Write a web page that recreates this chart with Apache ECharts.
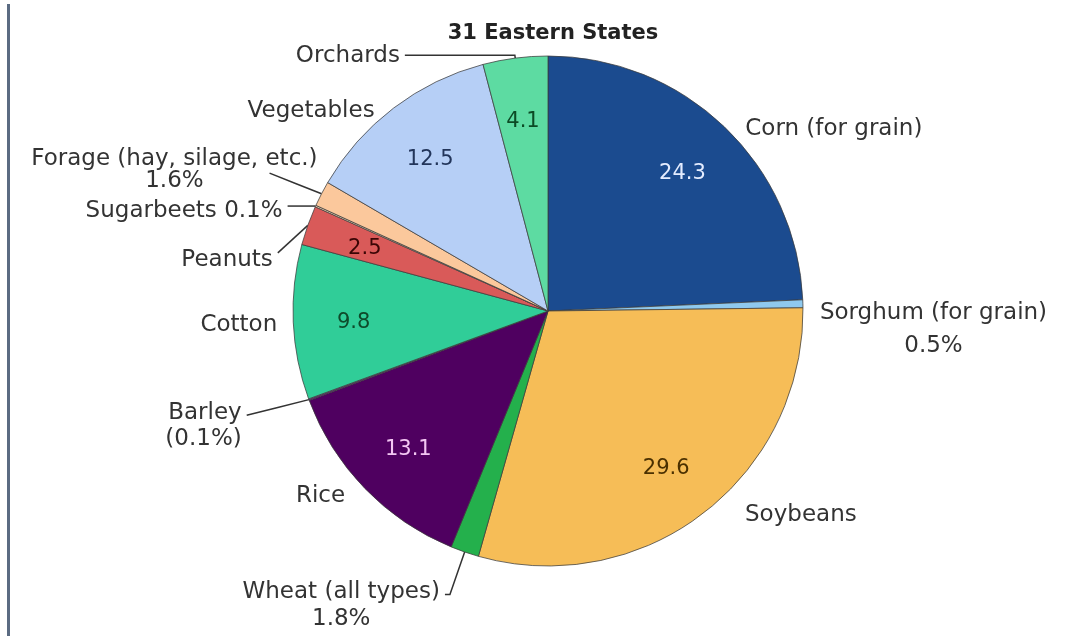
<!DOCTYPE html>
<html><head><meta charset="utf-8">
<script src="https://cdn.jsdelivr.net/npm/echarts@6/dist/echarts.min.js"></script>
<style>html,body{margin:0;padding:0;background:#fff}#c{width:1077px;height:636px}</style>
</head><body><div id="c"></div>
<script>
// ---- data ----
const chartTitle = '31 Eastern States';
const categories = ['Corn (for grain)','Sorghum (for grain)','Soybeans','Wheat (all types)','Rice','Barley','Cotton','Peanuts','Sugarbeets','Forage (hay, silage, etc.)','Vegetables','Orchards'];
const values = [24.3, 0.5, 29.6, 1.8, 13.1, 0.1, 9.8, 2.5, 0.1, 1.6, 12.5, 4.1];
// how each outside label is written: 'name', 'nameCenterPct', 'nameParenPct', 'nameInlinePct'
const labelKinds = ['name','nameCenterPct','name','nameCenterPct','name','nameParenPct','name','name','nameInlinePct','nameCenterPct','name','name'];
const insideMin = 2.5; // slices of at least this share carry their value inside

// ---- styles ----
const sliceColors = ['#1b4b8f','#8fc9ee','#f6bd57','#24b04c','#4f0060','#6a2a7a','#30cd98','#d95a59','#f4d9b4','#fbc89c','#b6cff6','#5ddba2'];
const valueColors = ['#e4ecff',null,'#4a3000',null,'#f3c6f3',null,'#0e4a2a','#3a0505',null,null,'#22355a','#0c4a25'];
// [length, length2, showLine, dx, dy, lineHeight, lineMode] for outside labels
// lineMode: '' = library default, 'top' = run to the label's upper corner, 'straight' = single straight segment
const outerLayout = [
  [0,16,false,0,2,27,''],
  [0,12,false,0,26,33,''],
  [0,37,false,0,2,27,''],
  [45,5,true,0,11,27,''],
  [8,9,false,0,2,27,''],
  [45,20,true,0,11,26,'straight'],
  [0,11,false,0,3,27,''],
  [0,30,true,0,35,27,'top'],
  [0,28,true,0,5,27,''],
  [45,12,true,53,-3,22,'straight'],
  [0,14,false,0,3,27,''],
  [3,110,true,0,1,27,'']
];
const FONT = 'DejaVu Sans';
const NAME_SIZE = 23;

function outerText(i, name, v) {
  const k = labelKinds[i];
  if (k === 'nameCenterPct') return '{c|' + name + '}\n{c|' + v + '%}';
  if (k === 'nameParenPct') return '{l|' + name + '}\n{l|(' + v + '%)}';
  if (k === 'nameInlinePct') return '{l|' + name + ' ' + v + '%}';
  return '{l|' + name + '}';
}

function richFor(i) {
  const lh = outerLayout[i][5];
  return {
    c: {align: 'center', fontFamily: FONT, fontSize: NAME_SIZE, color: '#333', lineHeight: lh},
    l: {fontFamily: FONT, fontSize: NAME_SIZE, color: '#333', lineHeight: lh}
  };
}

const outerData = categories.map((n, i) => ({
  name: n,
  value: values[i],
  itemStyle: {color: sliceColors[i]},
  label: {formatter: p => outerText(p.dataIndex, p.name, p.value), rich: richFor(i)},
  labelLine: {show: outerLayout[i][2], length: outerLayout[i][0], length2: outerLayout[i][1]}
}));

const innerData = categories.map((n, i) => ({
  name: n,
  value: values[i],
  label: {show: values[i] >= insideMin, color: valueColors[i] || '#000'}
}));

function outerLabelLayout(p) {
  const o = outerLayout[p.dataIndex];
  const res = {dx: o[3], dy: o[4]};
  const pts = p.labelLinePoints;
  if (o[6] && pts && pts.length) {
    const s = pts[0];
    let e;
    if (o[6] === 'top') {
      const r = p.labelRect;
      e = [r.x + r.width + o[3] + 5, r.y + o[4] + 4];
    } else {
      e = pts[pts.length - 1];
    }
    res.labelLinePoints = [s, [(s[0] + e[0]) / 2, (s[1] + e[1]) / 2], e];
  }
  return res;
}

const chart = echarts.init(document.getElementById('c'), null, {renderer: 'canvas'});
chart.setOption({
  animation: false,
  backgroundColor: '#ffffff',
  title: {
    text: chartTitle, left: 548, top: 18, textAlign: 'center',
    textStyle: {fontFamily: FONT, fontSize: 21, fontWeight: 'bold', color: '#222'}
  },
  graphic: [{
    type: 'line', shape: {x1: 8.5, y1: 4, x2: 8.5, y2: 636},
    style: {stroke: '#5b6b82', lineWidth: 3}, silent: true
  }],
  series: [
    {
      type: 'pie',
      center: [548, 311],
      radius: 255,
      startAngle: 90,
      clockwise: true,
      avoidLabelOverlap: false,
      silent: true,
      itemStyle: {borderColor: 'rgba(60,60,60,0.75)', borderWidth: 1},
      label: {show: true, position: 'outside', distanceToLabelLine: 5},
      labelLine: {lineStyle: {color: '#333', width: 1.5}, minTurnAngle: 0, maxSurfaceAngle: 180},
      labelLayout: outerLabelLayout,
      emphasis: {disabled: true},
      data: outerData
    },
    {
      type: 'pie',
      center: [548, 311],
      radius: [128, 255],
      startAngle: 90,
      clockwise: true,
      silent: true,
      avoidLabelOverlap: false,
      itemStyle: {color: 'rgba(0,0,0,0)', borderWidth: 0},
      label: {position: 'inside', fontFamily: FONT, fontSize: 21, formatter: p => String(p.value)},
      labelLine: {show: false},
      labelLayout: {dy: 3},
      emphasis: {disabled: true},
      data: innerData
    }
  ]
});
</script></body></html>
